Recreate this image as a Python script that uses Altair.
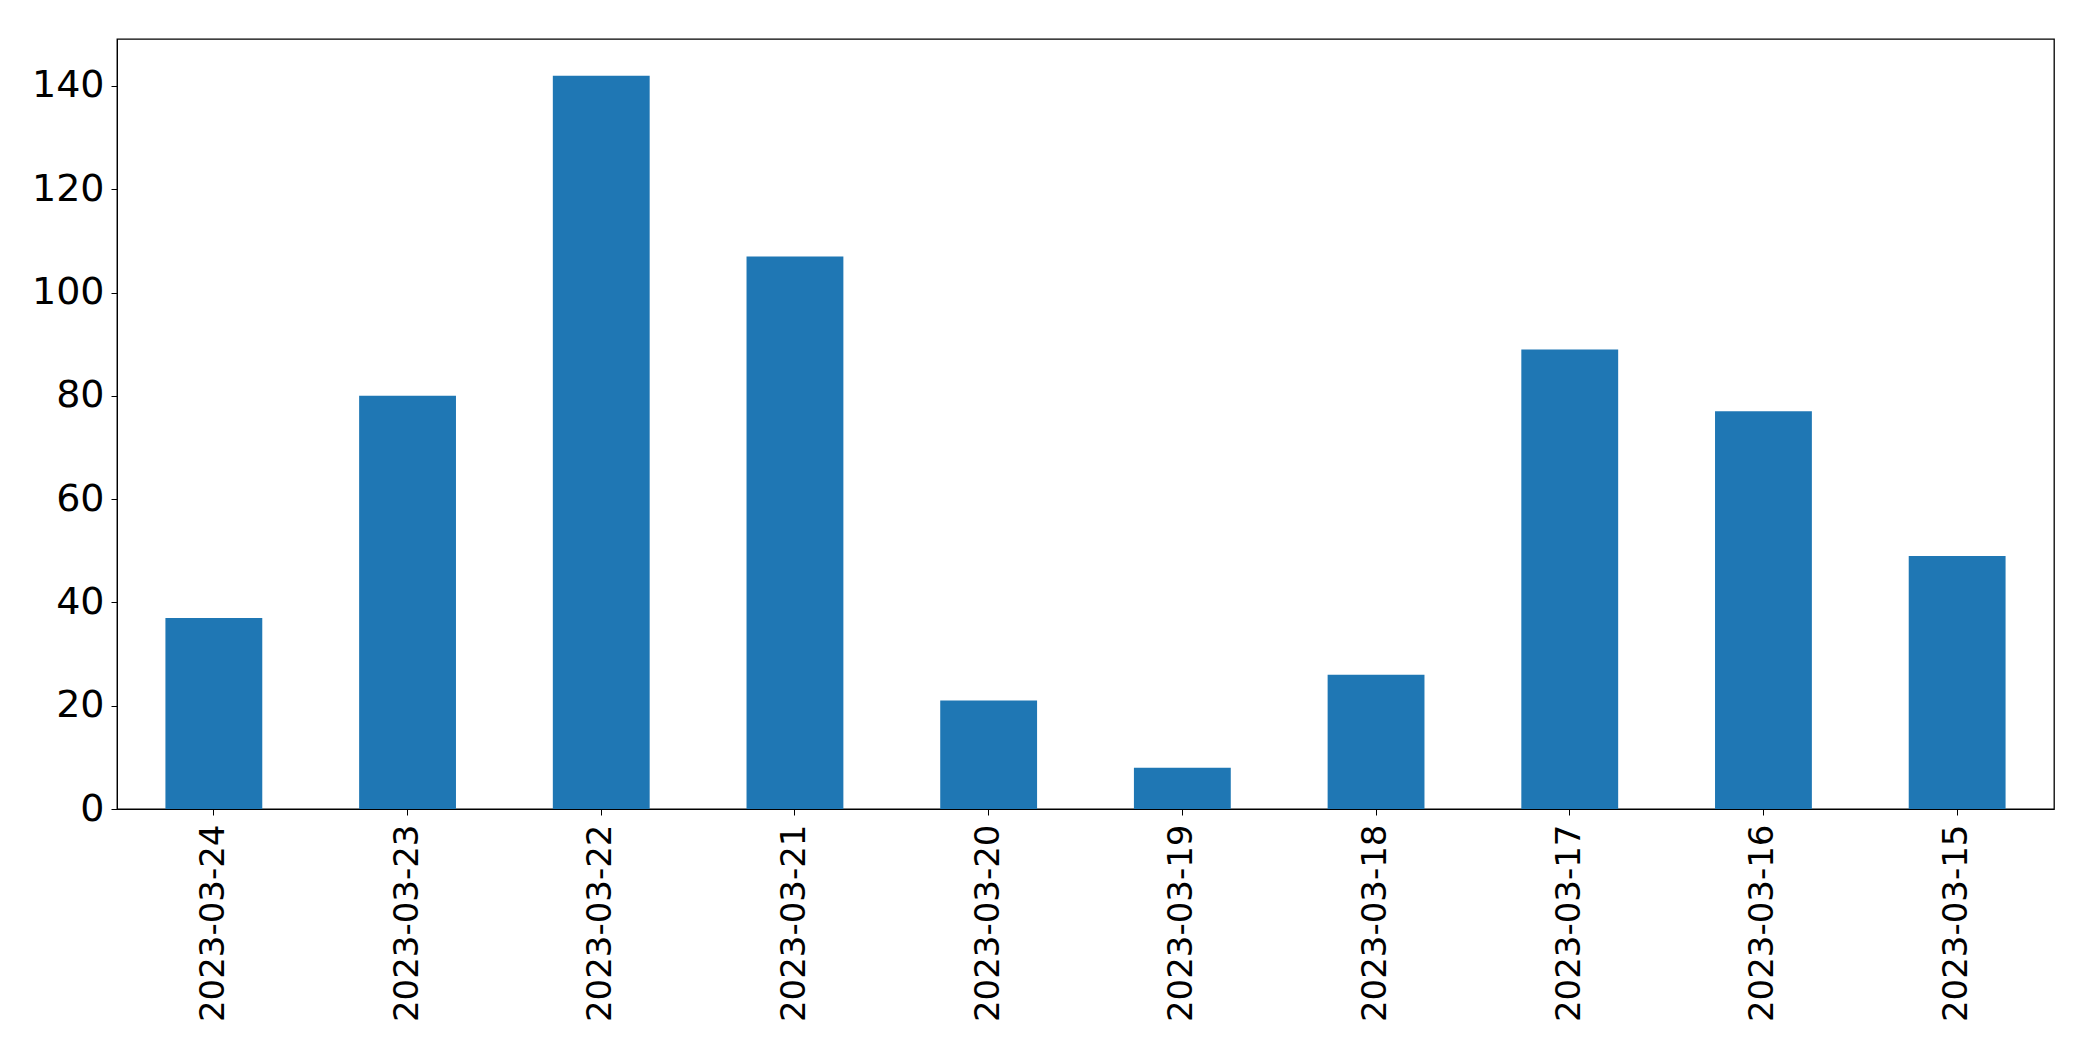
import altair as alt
import pandas as pd

dates = ["2023-03-24", "2023-03-23", "2023-03-22", "2023-03-21", "2023-03-20",
         "2023-03-19", "2023-03-18", "2023-03-17", "2023-03-16", "2023-03-15"]
counts = [37, 80, 142, 107, 21, 8, 26, 89, 77, 49]
y_ticks = [0, 20, 40, 60, 80, 100, 120, 140]

df = pd.DataFrame({"date": dates, "count": counts})

FONT = "DejaVu Sans"

chart = alt.Chart(df).mark_bar(color="#1f77b4").encode(
    x=alt.X("date:N", sort=None,
            scale=alt.Scale(paddingInner=0.5, paddingOuter=0.25),
            axis=alt.Axis(title=None, labelAngle=-90, labelFontSize=34, labelFont=FONT,
                          labelColor="black", tickColor="black", tickSize=6, labelLimit=0,
                          domainColor="black", labelPadding=9, labelBaseline="middle",
                          labelAlign="right")),
    y=alt.Y("count:Q",
            scale=alt.Scale(domain=[0, 149.1], nice=False, zero=True),
            axis=alt.Axis(title=None, values=y_ticks, grid=False, labelFontSize=38,
                          labelFont=FONT, labelColor="black", tickColor="black", tickSize=6,
                          domainColor="black", labelPadding=7)),
).properties(
    width=1937,
    height=770,
    padding={"left": 109, "top": 31, "right": 30, "bottom": 240},
    autosize=alt.AutoSizeParams(type="none"),
    background="white",
).configure_view(
    stroke="black", strokeWidth=1.3
)

chart.save("out.html", embed_options={"renderer": "svg", "actions": False})
